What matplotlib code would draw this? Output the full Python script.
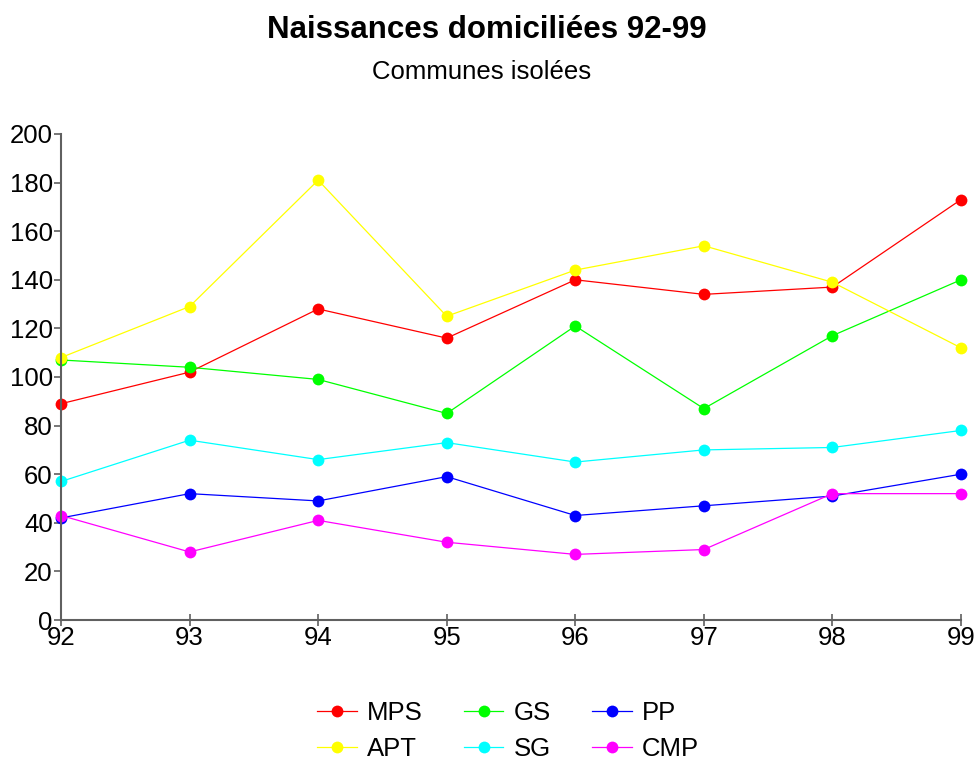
import matplotlib.pyplot as plt

plt.rcParams['font.family'] = ['Liberation Sans', 'DejaVu Sans']

years = [92, 93, 94, 95, 96, 97, 98, 99]
year_labels = ['92', '93', '94', '95', '96', '97', '98', '99']

mps = [89, 102, 128, 116, 140, 134, 137, 173]
gs = [107, 104, 99, 85, 121, 87, 117, 140]
pp = [42, 52, 49, 59, 43, 47, 51, 60]
apt = [108, 129, 181, 125, 144, 154, 139, 112]
sg = [57, 74, 66, 73, 65, 70, 71, 78]
cmp_ = [43, 28, 41, 32, 27, 29, 52, 52]

series = [
    ('MPS', mps, '#ff0000'),
    ('GS', gs, '#00ff00'),
    ('PP', pp, '#0000ff'),
    ('APT', apt, '#ffff00'),
    ('SG', sg, '#00ffff'),
    ('CMP', cmp_, '#ff00ff'),
]

fig = plt.figure(figsize=(9.75, 7.6), dpi=100)
ax = fig.add_axes([0.0626, 0.1842, 0.923, 0.6395])

handles = {}
for name, vals, col in series:
    h, = ax.plot(years, vals, color=col, lw=0.9, marker='o', ms=8.5,
                 markeredgewidth=0, label=name, clip_on=False)
    handles[name] = h

ax.set_xlim(92, 99)
ax.set_ylim(0, 200)
ax.set_xticks(years)
ax.set_xticklabels(year_labels)
ax.set_yticks(range(0, 201, 20))

for s in ['top', 'right']:
    ax.spines[s].set_visible(False)
for s in ['left', 'bottom']:
    ax.spines[s].set_color('#606060')
    ax.spines[s].set_linewidth(1.5)

ax.tick_params(axis='y', direction='out', length=5, width=1.2, color='#606060',
               labelsize=18.5, pad=1)
ax.tick_params(axis='x', direction='inout', length=9, width=1.2, color='#606060',
               labelsize=18.5, pad=0)

fig.text(0.4995, 0.96, 'Naissances domiciliées 92-99', ha='center', va='center',
         fontsize=22.5, fontweight='bold')
fig.text(0.4935, 0.905, 'Communes isolées', ha='center', va='center', fontsize=18.5)

order = ['MPS', 'APT', 'GS', 'SG', 'PP', 'CMP']
fig.legend([handles[n] for n in order], order, ncol=3, loc='center',
           bbox_to_anchor=(0.521, 0.038), frameon=False, fontsize=18.5,
           handlelength=1.55, columnspacing=1.6, labelspacing=0.45,
           handletextpad=0.4, borderpad=0)

fig.savefig('out.png', dpi=100)
